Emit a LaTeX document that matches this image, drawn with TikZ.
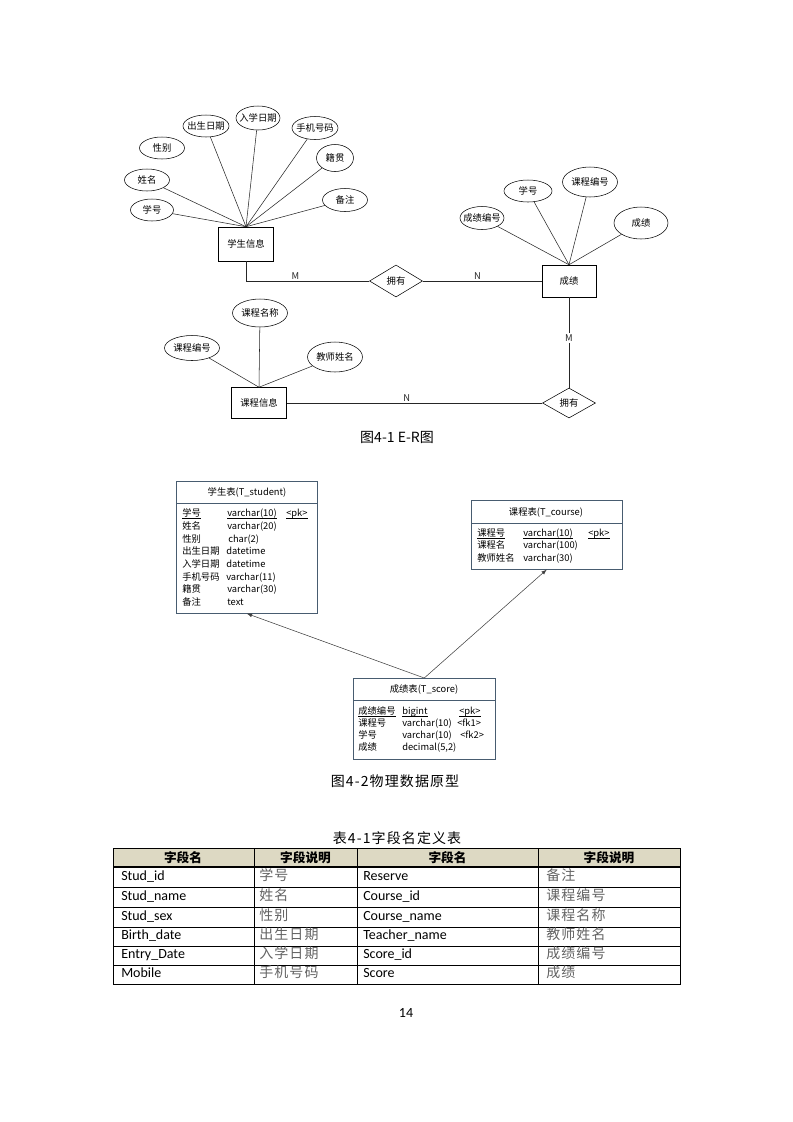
\documentclass[tikz,border=0pt]{standalone}
\usepackage{fontspec}
\setmainfont{Noto Sans CJK SC}
\newfontfamily\latfont{Carlito}
\usetikzlibrary{shapes.geometric, positioning}

\definecolor{headtan}{RGB}{221,217,195}
\definecolor{pdmblue}{RGB}{72,92,112}
\definecolor{descgray}{RGB}{100,100,100}

\newcommand{\erfont}{\fontsize{7}{8}\selectfont}
\newcommand{\pdmfont}{\fontsize{7}{8}\selectfont}
\newcommand{\capfont}{\fontsize{10.5}{12}\selectfont}
\newcommand{\tabfont}{\fontsize{10.5}{12}\selectfont}
\newcommand{\keyul}[1]{\underline{\smash{#1}}}

\tikzset{
  entity/.style 2 args={draw, thin, inner sep=0pt, minimum width=#1*0.75pt, minimum height=#2*0.75pt, font=\erfont},
  attr/.style 2 args={draw, ellipse, thin, inner xsep=-6pt, inner ysep=-1pt, minimum width=#1*0.75pt, minimum height=#2*0.75pt, font=\erfont},
  rel/.style 2 args={draw, diamond, thin, inner sep=0pt, minimum width=#1*0.75pt, minimum height=#2*0.75pt, font=\erfont},
  erline/.style={thin, black!85},
  card/.style={font=\erfont, inner sep=1pt, fill=white},
  pdmbox/.style 2 args={draw=pdmblue, thin, anchor=north west, minimum width=#1*0.75pt, minimum height=#2*0.75pt},
  pdmtext/.style={font=\pdmfont, inner sep=0pt, anchor=west, text height=5.5pt, text depth=1.5pt},
  pdmtitle/.style={font=\pdmfont, inner sep=0pt},
  pdmarrow/.style={->, thin, black!75},
  tabline/.style={line width=0.6pt},
  tabhead/.style={font=\fontsize{9.5}{11}\selectfont\bfseries, inner sep=0pt},
  tabname/.style={font=\tabfont\latfont, anchor=west, inner sep=0pt, text height=7pt, text depth=2pt},
  tabdesc/.style={font=\tabfont\addfontfeature{LetterSpace=8}, text=descgray, anchor=west, inner sep=0pt, text height=7pt, text depth=2pt},
  figcap/.style={font=\capfont, inner sep=0pt},
  figcapsp/.style={font=\capfont\addfontfeature{LetterSpace=8}, inner sep=0pt}
}

\begin{document}
\begin{tikzpicture}[x=0.75pt, y=-0.75pt, >=latex]
  \fill[white] (0,0) rectangle (793,1122);
  \useasboundingbox (0,0) rectangle (793,1122);

  % E-R diagram
  \node (stu) at (246,244) [entity={55}{34}] {学生信息};
  \node (r1) at (396,281) [rel={53}{32}] {拥有};
  \node (score) at (569,281) [entity={54}{32}] {成绩};
  \node (r2) at (569,403) [rel={53}{30}] {拥有};
  \node (course) at (259,403) [entity={55}{31}] {课程信息};

  \node (s1) at (152,210) [attr={43}{22}] {学号};
  \node (s2) at (147,180) [attr={45}{22}] {姓名};
  \node (s3) at (162,148) [attr={45}{22}] {性别};
  \node (s4) at (206,126) [attr={46}{22}] {出生日期};
  \node (s5) at (258,118) [attr={44}{24}] {入学日期};
  \node (s6) at (315,128) [attr={46}{23}] {手机号码};
  \node (s7) at (335,158) [attr={37}{27}] {籍贯};
  \node (s8) at (345,200) [attr={45}{23}] {备注};
  \draw[erline] (s1) -- (stu.north);
  \draw[erline] (s2) -- (stu.north);
  \draw[erline] (s4) -- (stu.north);
  \draw[erline] (s5) -- (stu.north);
  \draw[erline] (s6) -- (stu.north);
  \draw[erline] (s7) -- (stu.north);
  \draw[erline] (s8) -- (stu.north);

  \node (g1) at (482,218) [attr={44}{23}] {成绩编号};
  \node (g2) at (528,191) [attr={48}{22}] {学号};
  \node (g3) at (590,182) [attr={55}{30}] {课程编号};
  \node (g4) at (641,223) [attr={54}{32}] {成绩};
  \draw[erline] (g1) -- (score.north);
  \draw[erline] (g2) -- (score.north);
  \draw[erline] (g3) -- (score.north);
  \draw[erline] (g4) -- (score.north);

  \node (c1) at (192,348) [attr={55}{25}] {课程编号};
  \node (c2) at (260,313) [attr={55}{28}] {课程名称};
  \node (c3) at (335,357) [attr={55}{30}] {教师姓名};
  \draw[erline] (c1) -- (course.north);
  \draw[erline] (c2) -- (course.north);
  \draw[erline] (c3) -- (course.north);

  \draw[erline] (stu.south) |- (r1.west) node (m1) [card, pos=0.7, above] {M};
  \draw[erline] (r1.east) -- (score.west) node (n1) [card, pos=0.46, above] {N};
  \draw[erline] (score.south) -- (r2.north) node (m2) [card, pos=0.45] {M};
  \draw[erline] (r2.west) -- (course.east) node (n2) [card, pos=0.53, above] {N};

  \node (cap1) at (397,437) [figcap] {图4-1 E-R图};

  % physical model
  \node (stab) at (176,481) [pdmbox={141}{132}] {};
  \draw[pdmblue, thin] (176,503) -- (317,503);
  \node (stabt) at (247,492) [pdmtitle] {学生表(T\_student)};
  \node (st1a) at (182,514) [pdmtext] {\keyul{学号}};
  \node (st1b) at (227,514) [pdmtext] {\keyul{varchar(10)}};
  \node (st1c) at (286,514) [pdmtext] {\keyul{<pk>}};
  \node (st2a) at (182,527) [pdmtext] {姓名};
  \node (st2b) at (227,527) [pdmtext] {varchar(20)};
  \node (st3a) at (182,540) [pdmtext] {性别};
  \node (st3b) at (228,540) [pdmtext] {char(2)};
  \node (st4a) at (182,552) [pdmtext] {出生日期};
  \node (st4b) at (226,552) [pdmtext] {datetime};
  \node (st5a) at (182,565) [pdmtext] {入学日期};
  \node (st5b) at (226,565) [pdmtext] {datetime};
  \node (st6a) at (182,578) [pdmtext] {手机号码};
  \node (st6b) at (226,578) [pdmtext] {varchar(11)};
  \node (st7a) at (182,590) [pdmtext] {籍贯};
  \node (st7b) at (227,590) [pdmtext] {varchar(30)};
  \node (st8a) at (182,603) [pdmtext] {备注};
  \node (st8b) at (227,603) [pdmtext] {text};

  \node (ctab) at (471,500) [pdmbox={151}{69}] {};
  \draw[pdmblue, thin] (471,523) -- (622,523);
  \node (ctabt) at (546,512) [pdmtitle] {课程表(T\_course)};
  \node (ct1a) at (477,534) [pdmtext] {\keyul{课程号}};
  \node (ct1b) at (523,534) [pdmtext] {\keyul{varchar(10)}};
  \node (ct1c) at (588,534) [pdmtext] {\keyul{<pk>}};
  \node (ct2a) at (477,546) [pdmtext] {课程名};
  \node (ct2b) at (523,546) [pdmtext] {varchar(100)};
  \node (ct3a) at (477,559) [pdmtext] {教师姓名};
  \node (ct3b) at (523,559) [pdmtext] {varchar(30)};

  \node (sctab) at (353,678) [pdmbox={142}{81}] {};
  \draw[pdmblue, thin] (353,700) -- (495,700);
  \node (sctabt) at (424,689) [pdmtitle] {成绩表(T\_score)};
  \node (sc1a) at (358,712) [pdmtext] {\keyul{成绩编号}};
  \node (sc1b) at (402,712) [pdmtext] {\keyul{bigint}};
  \node (sc1c) at (459,712) [pdmtext] {\keyul{<pk>}};
  \node (sc2a) at (358,724) [pdmtext] {课程号};
  \node (sc2b) at (402,724) [pdmtext] {varchar(10)};
  \node (sc2c) at (457,724) [pdmtext] {<fk1>};
  \node (sc3a) at (358,736) [pdmtext] {学号};
  \node (sc3b) at (402,736) [pdmtext] {varchar(10)};
  \node (sc3c) at (460,736) [pdmtext] {<fk2>};
  \node (sc4a) at (358,748) [pdmtext] {成绩};
  \node (sc4b) at (402,748) [pdmtext] {decimal(5,2)};

  \draw[pdmarrow] (sctab.north) -- (stab.south);
  \draw[pdmarrow] (sctab.north) -- (ctab.south);

  \node (cap2) at (395,781) [figcapsp] {图4-2物理数据原型};

  % field table
  \node (cap3) at (397,838) [figcapsp] {表4-1字段名定义表};
  \fill[headtan] (113,848) rectangle (680,867);
  \draw[tabline] (113,848) rectangle (680,984);
  \draw[tabline, line width=1pt] (113,867) -- (680,867);
  \draw[tabline] (113,887) -- (680,887) (113,907) -- (680,907) (113,927) -- (680,927)
    (113,946) -- (680,946) (113,965) -- (680,965);
  \draw[tabline] (254,848) -- (254,984) (357,848) -- (357,984) (538,848) -- (538,984);

  \node (h1) at (183,857.5) [tabhead] {字段名};
  \node (h2) at (305.5,857.5) [tabhead] {字段说明};
  \node (h3) at (447.5,857.5) [tabhead] {字段名};
  \node (h4) at (609,857.5) [tabhead] {字段说明};

  \node (t1a) at (121,877) [tabname] {Stud\_id};
  \node (t1b) at (259,877) [tabdesc] {学号};
  \node (t1c) at (363,877) [tabname] {Reserve};
  \node (t1d) at (546,877) [tabdesc] {备注};
  \node (t2a) at (121,897) [tabname] {Stud\_name};
  \node (t2b) at (259,897) [tabdesc] {姓名};
  \node (t2c) at (363,897) [tabname] {Course\_id};
  \node (t2d) at (546,897) [tabdesc] {课程编号};
  \node (t3a) at (121,917) [tabname] {Stud\_sex};
  \node (t3b) at (259,917) [tabdesc] {性别};
  \node (t3c) at (363,917) [tabname] {Course\_name};
  \node (t3d) at (546,917) [tabdesc] {课程名称};
  \node (t4a) at (121,936.5) [tabname] {Birth\_date};
  \node (t4b) at (259,936.5) [tabdesc] {出生日期};
  \node (t4c) at (363,936.5) [tabname] {Teacher\_name};
  \node (t4d) at (546,936.5) [tabdesc] {教师姓名};
  \node (t5a) at (121,955.5) [tabname] {Entry\_Date};
  \node (t5b) at (259,955.5) [tabdesc] {入学日期};
  \node (t5c) at (363,955.5) [tabname] {Score\_id};
  \node (t5d) at (546,955.5) [tabdesc] {成绩编号};
  \node (t6a) at (121,974.5) [tabname] {Mobile};
  \node (t6b) at (259,974.5) [tabdesc] {手机号码};
  \node (t6c) at (363,974.5) [tabname] {Score};
  \node (t6d) at (546,974.5) [tabdesc] {成绩};

  \node (pg) at (406,1013) [font=\fontsize{10.5}{12}\selectfont\latfont] {14};
\end{tikzpicture}
\end{document}
